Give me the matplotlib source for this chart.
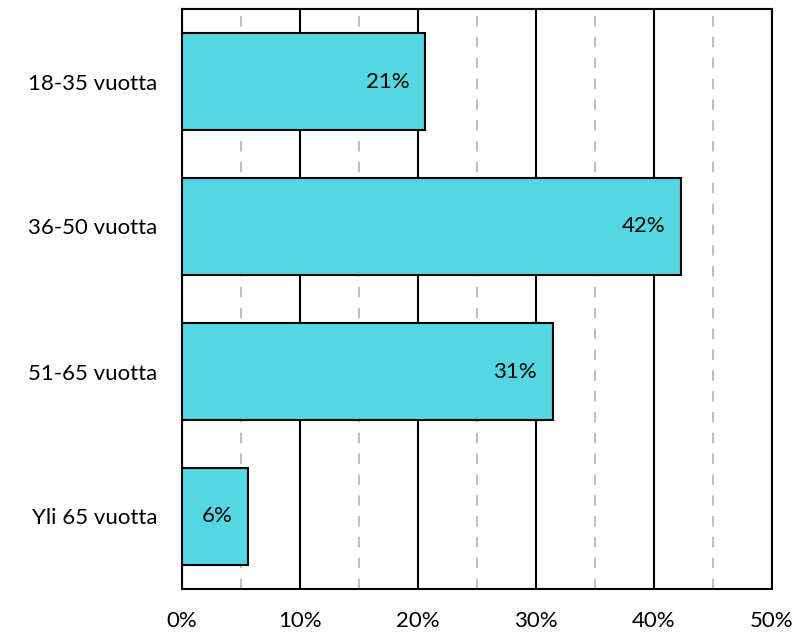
import matplotlib
matplotlib.use("Agg")
import matplotlib.pyplot as plt
from matplotlib.ticker import MultipleLocator, PercentFormatter

plt.rcParams['font.family'] = ['Lato', 'DejaVu Sans']

categories = ["18-35 vuotta", "36-50 vuotta", "51-65 vuotta", "Yli 65 vuotta"]
values = [20.6, 42.3, 31.4, 5.6]
labels = ["21%", "42%", "31%", "6%"]

fig = plt.figure(figsize=(8.07, 6.36), dpi=100)
ax = fig.add_axes([182/807, 1-589/636, (772-182)/807, (589-9)/636])

ypos = list(range(len(categories)))
bars = ax.barh(ypos, values, height=0.67, color="#55D6E3", edgecolor="black", linewidth=1.5, zorder=3)
for b, lab in zip(bars, labels):
    ax.text(b.get_width() - 1.35, b.get_y() + b.get_height()/2, lab,
            ha="right", va="center", fontsize=16, color="black", zorder=4)

ax.set_xlim(0, 50)
ax.set_ylim(len(categories) - 0.5, -0.5)
ax.set_yticks(ypos)
ax.set_yticklabels(categories, fontsize=16)
ax.xaxis.set_major_locator(MultipleLocator(10))
ax.xaxis.set_minor_locator(MultipleLocator(5))
ax.xaxis.set_major_formatter(PercentFormatter(decimals=0))
ax.tick_params(axis="x", which="both", length=0, labelsize=16, pad=16)
ax.tick_params(axis="y", length=0, pad=18)
ax.grid(axis="x", which="major", color="black", linewidth=1.5, zorder=1)
ax.grid(axis="x", which="minor", color="#BFBFBF", linewidth=1.5, linestyle=(0, (5, 5)), zorder=1)
for s in ax.spines.values():
    s.set_linewidth(1.5)
    s.set_color("black")

fig.savefig("out.png", dpi=100)
